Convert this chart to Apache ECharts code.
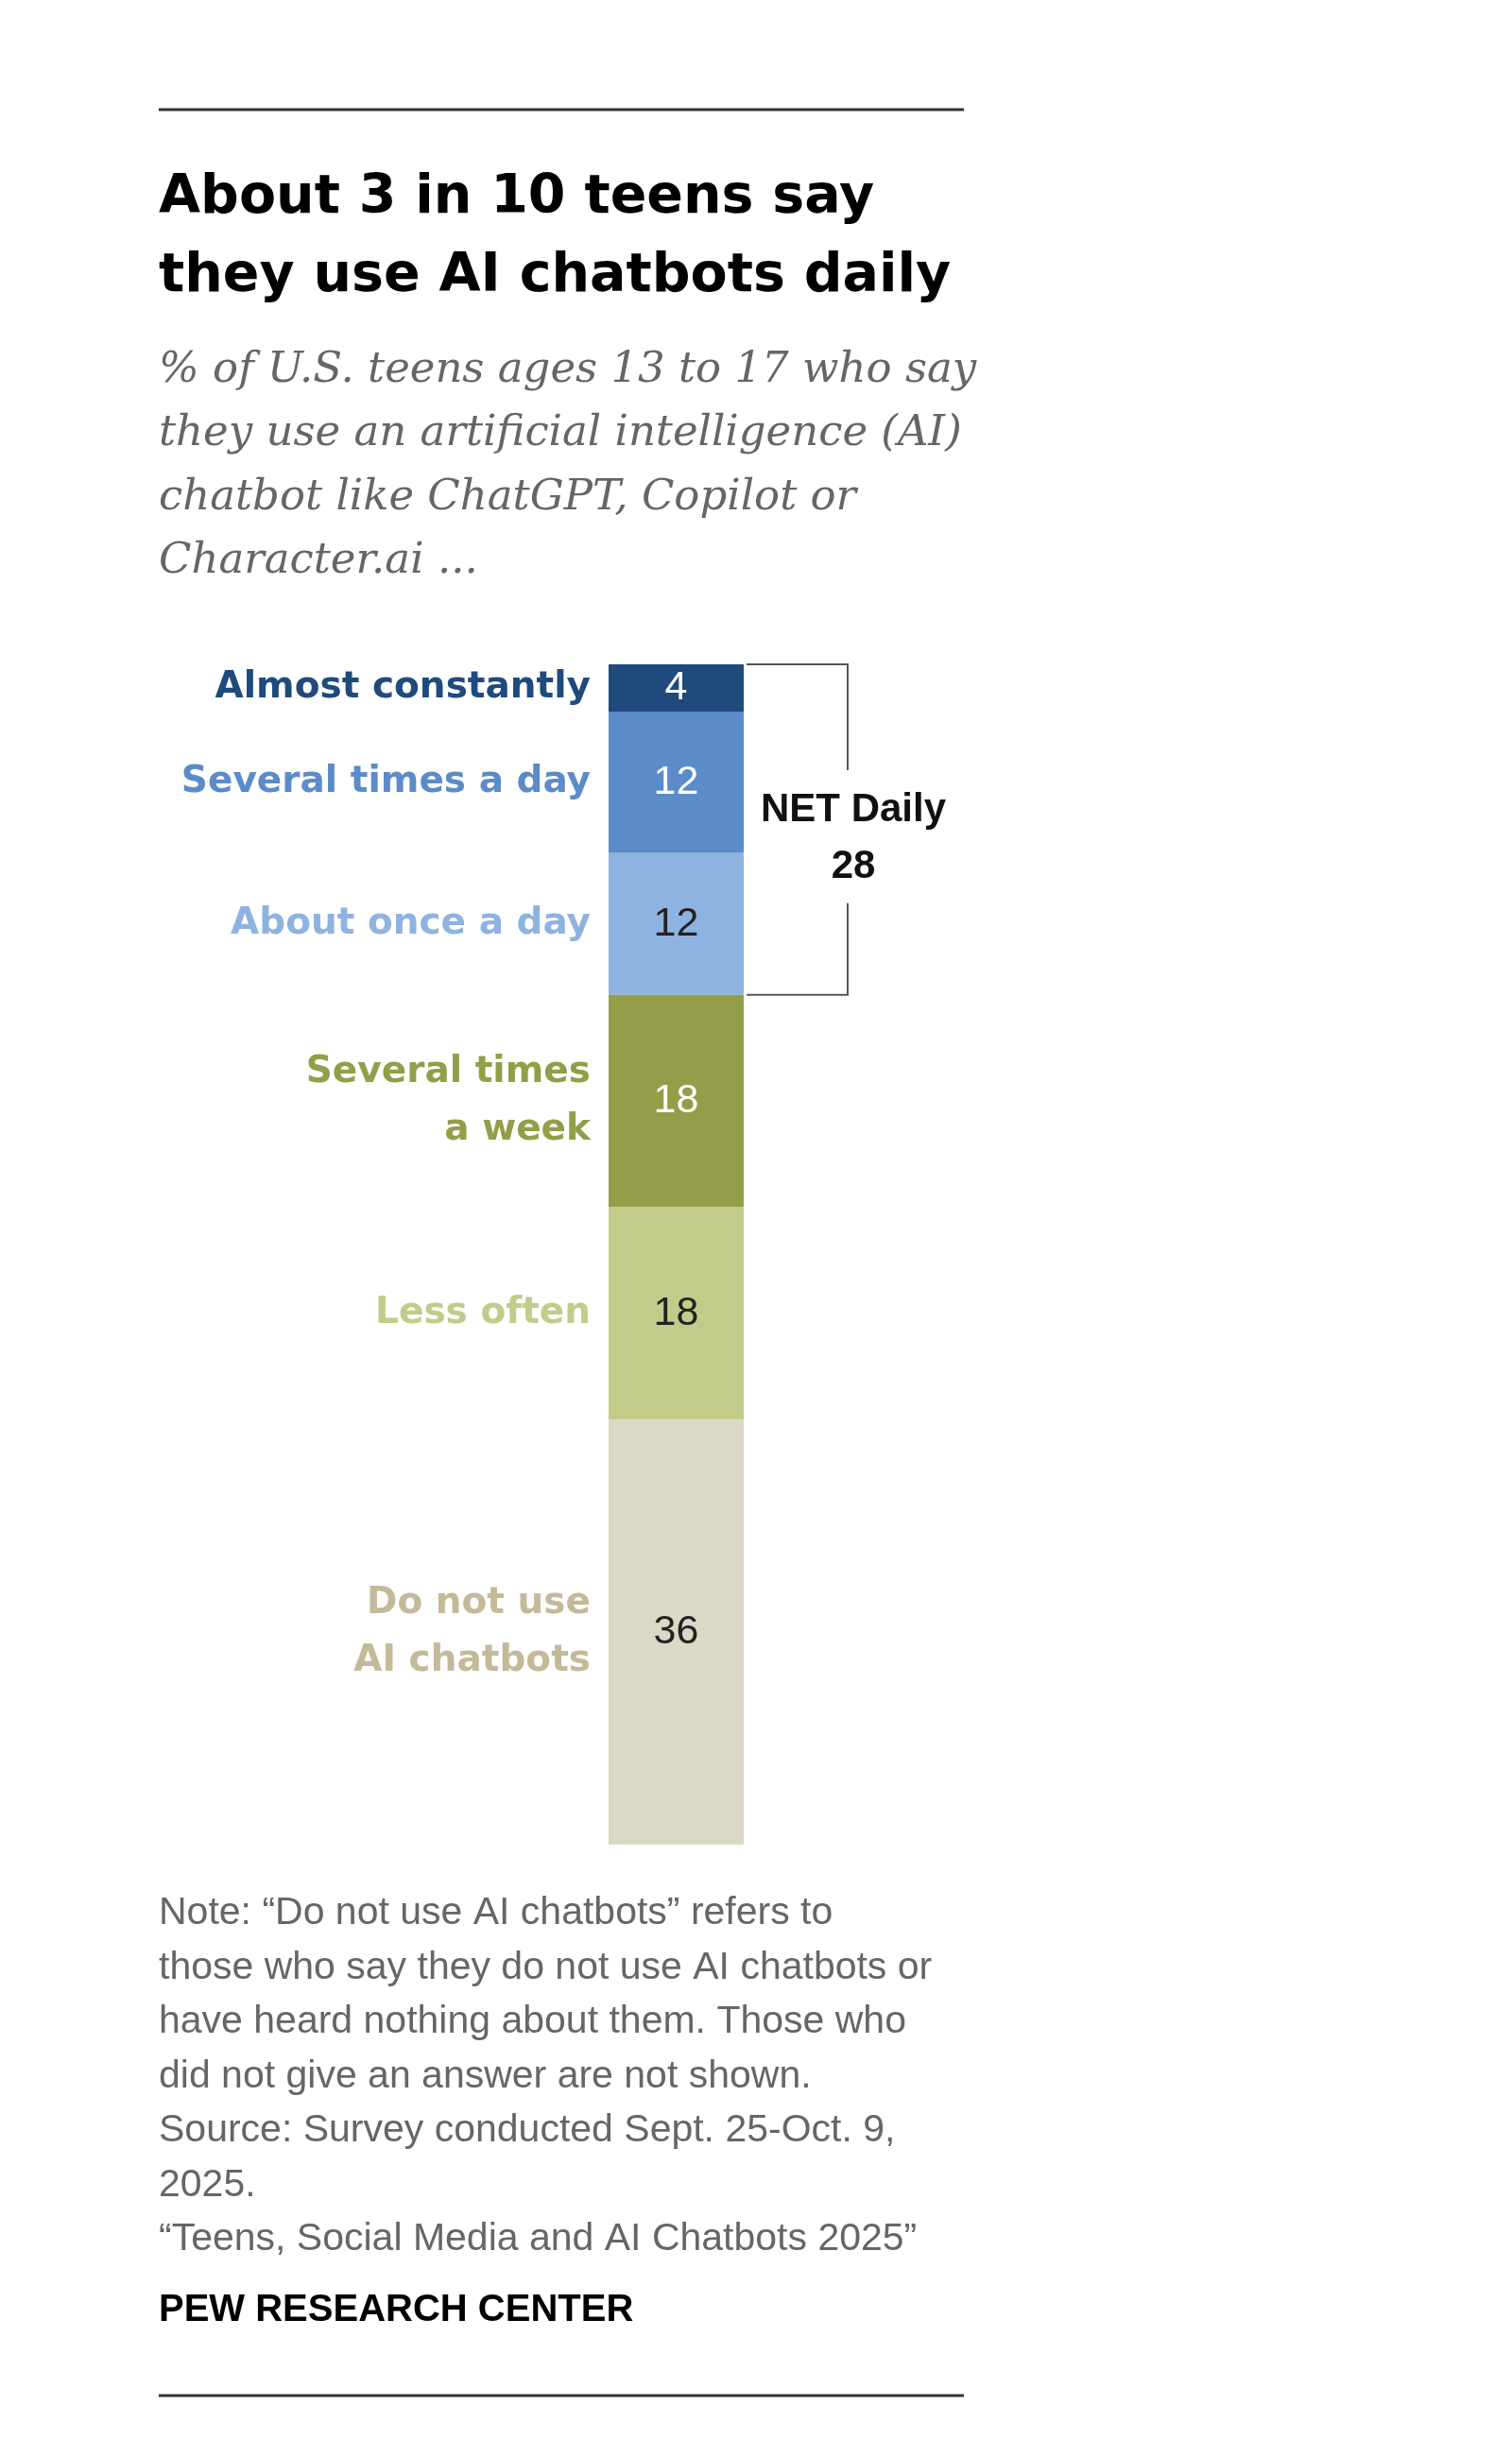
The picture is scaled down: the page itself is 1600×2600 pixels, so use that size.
<!DOCTYPE html>
<html>
<head>
<meta charset="utf-8">
<script src="https://cdn.jsdelivr.net/npm/echarts@6/dist/echarts.min.js"></script>
<style>
  html, body { margin: 0; padding: 0; background: #fff; }
  #container { width: 1600px; height: 2600px; }
</style>
</head>
<body>
<div id="container"></div>
<script>
var dom = document.getElementById("container");
var myChart = echarts.init(dom);

// share of teens, top to bottom
var rows = [
  { name: 'Almost constantly', lines: ['Almost constantly'], value: 4, color: '#1f4a7c', text: '#1f4a7c', inner: '#ffffff' },
  { name: 'Several times a day', lines: ['Several times a day'], value: 12, color: '#5b8bc8', text: '#5b8bc8', inner: '#ffffff' },
  { name: 'About once a day', lines: ['About once a day'], value: 12, color: '#8fb3e0', text: '#8fb3e0', inner: '#222222' },
  { name: 'Several times a week', lines: ['Several times', 'a week'], value: 18, color: '#949e48', text: '#949e48', inner: '#ffffff' },
  { name: 'Less often', lines: ['Less often'], value: 18, color: '#c3cb8a', text: '#c3cb8a', inner: '#222222' },
  { name: 'Do not use AI chatbots', lines: ['Do not use', 'AI chatbots'], value: 36, color: '#dcd8c6', text: '#c4b999', inner: '#222222' }
];

var option = {
  animation: false,
  grid: { left: 644, width: 143, top: 703, height: 1249 },
  xAxis: { type: 'category', data: ['teens'], show: false },
  yAxis: { type: 'value', min: 0, max: 100, inverse: true, show: false },
  series: rows.map(function (r) {
    return {
      type: 'bar',
      name: r.name,
      stack: 'all',
      barWidth: '100%',
      data: [r.value],
      itemStyle: { color: r.color },
      label: {
        show: true,
        position: 'inside',
        color: r.inner,
        fontFamily: 'Liberation Sans',
        fontSize: 43
      }
    };
  })
};
myChart.setOption(option);

// text and category labels placed from the axes
var graphics = [];
var acc = 0;
rows.forEach(function (r) {
  var mid = myChart.convertToPixel({ gridIndex: 0 }, ['teens', acc + r.value / 2]);
  acc += r.value;
  var lh = 61;
  var y0 = mid[1] - (r.lines.length - 1) * lh / 2;
  r.lines.forEach(function (t, i) {
    graphics.push({
      type: 'text', x: 625, y: y0 + i * lh,
      style: { text: t, fill: r.text, font: 'bold 39px "DejaVu Sans"', align: 'right', verticalAlign: 'middle' }
    });
  });
});

var top0 = myChart.convertToPixel({ gridIndex: 0 }, ['teens', 0])[1];
var top28 = myChart.convertToPixel({ gridIndex: 0 }, ['teens', 28])[1];
var brStyle = { stroke: '#555', lineWidth: 2, fill: null };
graphics.push(
  { type: 'polyline', shape: { points: [[790, top0], [897, top0], [897, top0 + 112]] }, style: brStyle },
  { type: 'polyline', shape: { points: [[897, top28 - 97], [897, top28], [790, top28]] }, style: brStyle },
  { type: 'text', x: 903, y: 857, style: { text: 'NET Daily', fill: '#111', font: 'bold 42px "Liberation Sans"', align: 'center', verticalAlign: 'middle' } },
  { type: 'text', x: 903, y: 917, style: { text: '28', fill: '#111', font: 'bold 42px "Liberation Sans"', align: 'center', verticalAlign: 'middle' } }
);

// header, subtitle, notes
graphics.push(
  { type: 'line', shape: { x1: 168, y1: 116, x2: 1020, y2: 116 }, style: { stroke: '#333', lineWidth: 3 } },
  { type: 'line', shape: { x1: 168, y1: 2535, x2: 1020, y2: 2535 }, style: { stroke: '#333', lineWidth: 3 } }
);
['About 3 in 10 teens say', 'they use AI chatbots daily'].forEach(function (t, i) {
  graphics.push({ type: 'text', x: 168, y: 210 + i * 83, style: { text: t, fill: '#000', font: 'bold 57px "DejaVu Sans"', verticalAlign: 'middle' } });
});
['% of U.S. teens ages 13 to 17 who say', 'they use an artificial intelligence (AI)',
 'chatbot like ChatGPT, Copilot or', 'Character.ai ...'].forEach(function (t, i) {
  graphics.push({ type: 'text', x: 168, y: 392 + i * 67.5, style: { text: t, fill: '#666', font: 'italic 45px "DejaVu Serif"', verticalAlign: 'middle' } });
});
['Note: \u201cDo not use AI chatbots\u201d refers to', 'those who say they do not use AI chatbots or',
 'have heard nothing about them. Those who', 'did not give an answer are not shown.',
 'Source: Survey conducted Sept. 25-Oct. 9,', '2025.',
 '\u201cTeens, Social Media and AI Chatbots 2025\u201d'].forEach(function (t, i) {
  graphics.push({ type: 'text', x: 168, y: 2025 + i * 57.5, style: { text: t, fill: '#666', font: '41px "Liberation Sans"', verticalAlign: 'middle' } });
});
graphics.push({ type: 'text', x: 168, y: 2445, style: { text: 'PEW RESEARCH CENTER', fill: '#000', font: 'bold 40px "Liberation Sans"', verticalAlign: 'middle' } });

myChart.setOption({ graphic: graphics });
</script>
</body>
</html>
